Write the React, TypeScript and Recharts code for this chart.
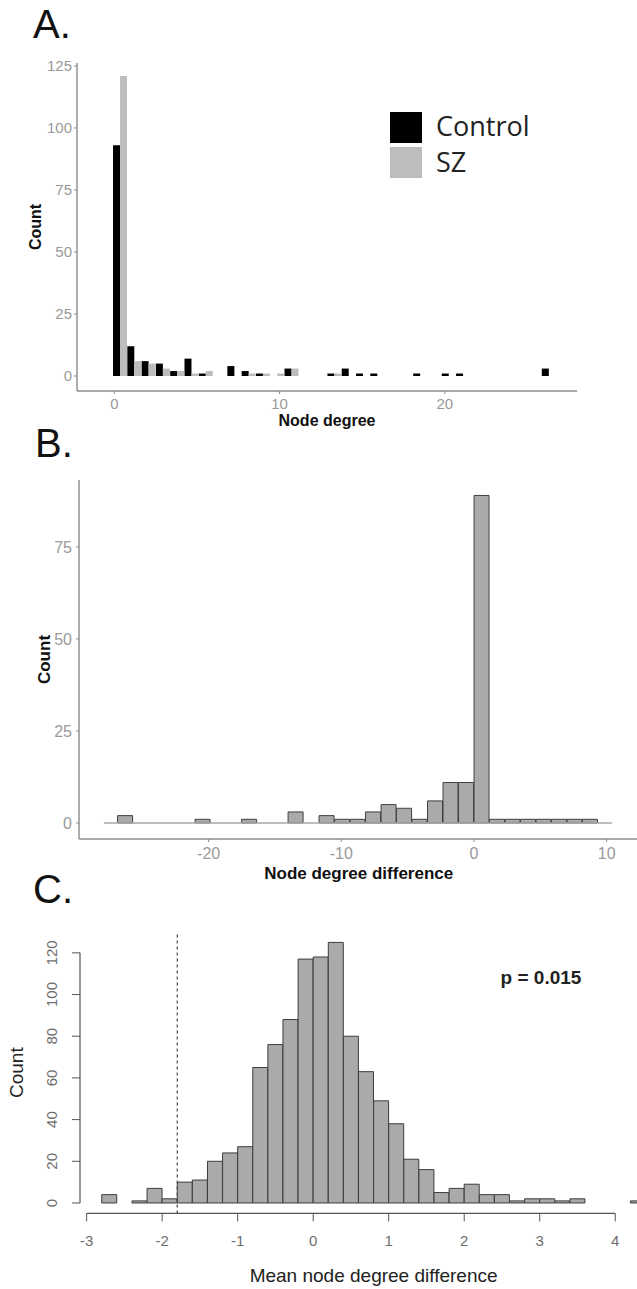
import React from 'react';
import { ComposedChart, Bar, XAxis, YAxis, ReferenceLine, Legend, Label } from 'recharts';

const SANS = '"Liberation Sans", Arial, sans-serif';
const SEGOE = '"Open Sans", "Noto Sans", sans-serif';

// A. node degree, control vs SZ (dodged histogram, 31 bins)
const degreeBinStart = -0.08;
const degreeBinWidth = 0.865;
const controlCounts = [93, 12, 6, 5, 2, 7, 1, 0, 4, 2, 1, 0, 3, 0, 0, 1, 3, 1, 1, 0, 0, 1, 0, 1, 1, 0, 0, 0, 0, 0, 3];
const szCounts = [121, 6, 5, 3, 2, 1, 2, 0, 0, 1, 1, 1, 3, 0, 0, 1, 0, 0, 0, 0, 0, 0, 0, 0, 0, 0, 0, 0, 0, 0, 0];
const groupNames = ['Control', 'SZ'];
const groupColors = ['#000000', '#bdbdbd'];
const degreeTicks = [0, 10, 20];
const degreeCountTicks = [0, 25, 50, 75, 100, 125];

// B. node degree difference (31 bins)
const diffBinStart = -26.86;
const diffBinWidth = 1.168;
const diffCounts = [2, 0, 0, 0, 0, 1, 0, 0, 1, 0, 0, 3, 0, 2, 1, 1, 3, 5, 4, 1, 6, 11, 11, 89, 1, 1, 1, 1, 1, 1, 1];
const diffBaseline = [-27.9, 10.4];
const diffTicks = [-20, -10, 0, 10];
const diffCountTicks = [0, 25, 50, 75];

// C. permutation distribution of mean node degree difference
const permBinStart = -2.8;
const permBinWidth = 0.2;
const permCounts = [4, 0, 1, 7, 2, 10, 11, 20, 24, 27, 65, 76, 88, 117, 118, 125, 80, 63, 49, 38, 21, 16, 5, 7, 9, 4, 4, 1, 2, 2, 1, 2, 0, 0, 0, 1];
const observedDiff = -1.8;
const permTicks = [-3, -2, -1, 0, 1, 2, 3, 4];
const permCountTicks = [0, 20, 40, 60, 80, 100, 120];
const pValueText = 'p = 0.015';

const degreeData = controlCounts.map((c, i) => ({
  x: degreeBinStart + (i + 0.5) * degreeBinWidth,
  control: c,
  sz: szCounts[i],
}));
const diffData = diffCounts.map((c, i) => ({ x: diffBinStart + (i + 0.5) * diffBinWidth, count: c }));
const permData = permCounts.map((c, i) => ({ x: permBinStart + (i + 0.5) * permBinWidth, count: c }));

const xTitle = (text: string, dy: number, size: number, bold = true, color = '#111') => (props: any) => {
  const vb = props.viewBox;
  return (
    <text x={vb.x + vb.width / 2} y={vb.y + dy} textAnchor="middle" dominantBaseline="central"
      fontFamily={SANS} fontSize={size} fontWeight={bold ? 'bold' : 'normal'} fill={color}>
      {text}
    </text>
  );
};

const yTitle = (text: string, cx: number, size: number, bold = true, color = '#111') => (props: any) => {
  const vb = props.viewBox;
  const cy = vb.y + vb.height / 2;
  return (
    <text x={cx} y={cy} transform={`rotate(-90, ${cx}, ${cy})`} textAnchor="middle" dominantBaseline="central"
      fontFamily={SANS} fontSize={size} fontWeight={bold ? 'bold' : 'normal'} fill={color}>
      {text}
    </text>
  );
};

const RotatedTick = (props: any) => {
  const { x, y, payload } = props;
  return (
    <text x={x} y={y} transform={`rotate(-90, ${x}, ${y})`} textAnchor="middle"
      fontFamily={SANS} fontSize={15} fill="#6e6e6e">
      {payload.value}
    </text>
  );
};

// legend box starts 12px above the first key so the text is not clipped
const GroupLegend = () => (
  <svg width={200} height={90}>
    {groupNames.map((name, i) => (
      <g key={name}>
        <rect x={0} y={12 + i * 35} width={32} height={31} fill={groupColors[i]} />
        <text x={46} y={36 + i * 36} fontFamily={SEGOE} fontSize={27} fill="#222">{name}</text>
      </g>
    ))}
  </svg>
);

const ggAxis = '#8c8c8c';
const ggTick = { fill: '#9a9a9a', fontFamily: SANS };

export default function App() {
  return (
    <div style={{ position: 'absolute', left: 0, top: 0, width: 637, height: 1289, overflow: 'hidden', background: '#fff' }}>
      <div style={{ position: 'absolute', left: 0, top: 0 }}>
        <ComposedChart width={637} height={440} data={degreeData} margin={{ top: 63, right: 60, bottom: 9, left: 0 }}
          barGap={0} barCategoryGap={0}>
          <XAxis type="number" dataKey="x" domain={[-2.26, 28.0]} ticks={degreeTicks} interval={0} height={40}
            tickSize={3} tickMargin={4} axisLine={{ stroke: ggAxis, strokeWidth: 1.4 }} tickLine={{ stroke: ggAxis }}
            tick={{ ...ggTick, fontSize: 15 }}>
            <Label content={xTitle('Node degree', 29, 16)} />
          </XAxis>
          <YAxis type="number" domain={[-6.05, 126.2]} ticks={degreeCountTicks} interval={0} width={77}
            tickSize={3} tickMargin={2} axisLine={{ stroke: ggAxis, strokeWidth: 1.4 }} tickLine={{ stroke: ggAxis }}
            tick={{ ...ggTick, fontSize: 15 }}>
            <Label content={yTitle('Count', 35, 16)} />
          </YAxis>
          <Legend layout="vertical" align="center" verticalAlign="middle"
            wrapperStyle={{ top: 100, left: 390, width: 200, height: 90 }} content={() => <GroupLegend />} />
          <Bar dataKey="control" name={groupNames[0]} fill={groupColors[0]} isAnimationActive={false} />
          <Bar dataKey="sz" name={groupNames[1]} fill={groupColors[1]} isAnimationActive={false} />
        </ComposedChart>
      </div>

      <div style={{ position: 'absolute', left: 0, top: 440 }}>
        <ComposedChart width={660} height={445} data={diffData} margin={{ top: 40, right: 21.5, bottom: 6, left: 0 }}
          barGap={0} barCategoryGap={0}>
          <XAxis type="number" dataKey="x" domain={[-29.77, 12.4]} ticks={diffTicks} interval={0} height={40}
            tickSize={3} tickMargin={6} axisLine={{ stroke: ggAxis, strokeWidth: 1.4 }} tickLine={{ stroke: ggAxis }}
            tick={{ ...ggTick, fontSize: 16 }}>
            <Label content={xTitle('Node degree difference', 34.5, 17)} />
          </XAxis>
          <YAxis type="number" domain={[-4.35, 93.2]} ticks={diffCountTicks} interval={0} width={79}
            tickSize={3} tickMargin={4} axisLine={{ stroke: ggAxis, strokeWidth: 1.4 }} tickLine={{ stroke: ggAxis }}
            tick={{ ...ggTick, fontSize: 16 }}>
            <Label content={yTitle('Count', 44, 17)} />
          </YAxis>
          <ReferenceLine segment={[{ x: diffBaseline[0], y: 0 }, { x: diffBaseline[1], y: 0 }]}
            stroke="#a8a8a8" strokeWidth={1.6} />
          <Bar dataKey="count" fill="#aaaaaa" stroke="#404040" strokeWidth={1} isAnimationActive={false} />
        </ComposedChart>
      </div>

      <div style={{ position: 'absolute', left: 0, top: 880 }}>
        <ComposedChart width={700} height={409} data={permData} margin={{ top: 52, right: 32.8, bottom: 5.6, left: 0 }}
          barGap={0} barCategoryGap={0}>
          <XAxis type="number" dataKey="x" domain={[-3.088, 4.688]} ticks={permTicks} interval={0} height={70}
            tickSize={8} tickMargin={14} axisLine={false} tickLine={{ stroke: '#555' }}
            tick={{ fill: '#6e6e6e', fontFamily: SANS, fontSize: 15 }}>
            <Label content={xTitle('Mean node degree difference', 61.6, 19, false, '#222')} />
          </XAxis>
          <YAxis type="number" domain={[-5, 130]} ticks={permCountTicks} interval={0} width={80}
            tickSize={8} tickMargin={14.5} axisLine={false} tickLine={{ stroke: '#555' }}
            tick={(p: any) => <RotatedTick {...p} />}>
            <Label content={yTitle('Count', 17, 19, false, '#222')} />
          </YAxis>
          <ReferenceLine segment={[{ x: permTicks[0], y: -5 }, { x: permTicks[permTicks.length - 1], y: -5 }]}
            stroke="#555" strokeWidth={1.2} ifOverflow="visible" />
          <ReferenceLine segment={[{ x: -3.088, y: permCountTicks[0] }, { x: -3.088, y: permCountTicks[permCountTicks.length - 1] }]}
            stroke="#555" strokeWidth={1.2} ifOverflow="visible" />
          <Bar dataKey="count" fill="#aaaaaa" stroke="#3c3c3c" strokeWidth={1} isAnimationActive={false} />
          <ReferenceLine x={observedDiff} stroke="#444" strokeDasharray="3 3" strokeWidth={1.2} />
        </ComposedChart>
      </div>

      <svg width={637} height={1289} style={{ position: 'absolute', left: 0, top: 0, pointerEvents: 'none' }}>
        <text x={33} y={38} fontFamily={SANS} fontSize={40} fill="#111">A.</text>
        <text x={35} y={457} fontFamily={SANS} fontSize={40} fill="#111">B.</text>
        <text x={33} y={903} fontFamily={SANS} fontSize={40} fill="#111">C.</text>
        <text x={541} y={984} textAnchor="middle" fontFamily={SANS} fontSize={19} fontWeight="bold" fill="#222">
          {pValueText}
        </text>
      </svg>
    </div>
  );
}
